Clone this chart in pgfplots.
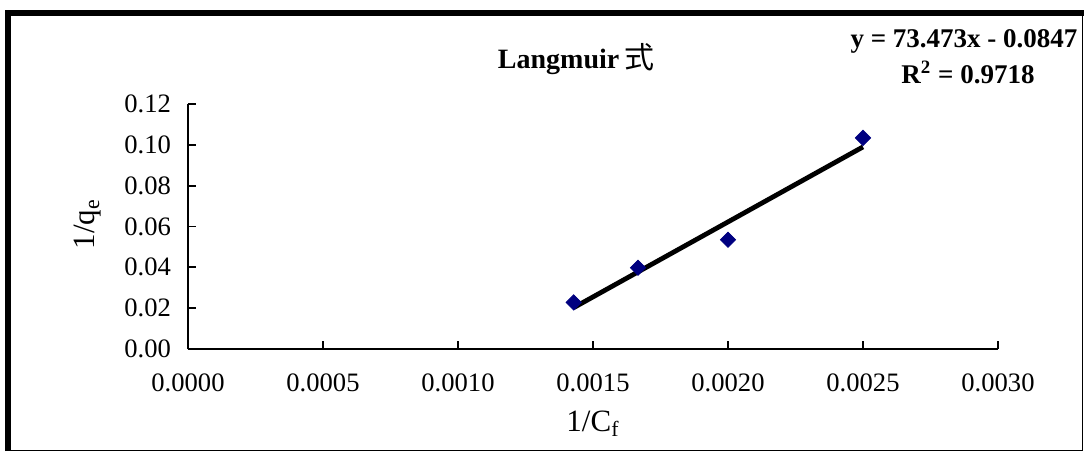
\documentclass[border=0pt]{standalone}
\usepackage{pgfplots}
\pgfplotsset{compat=1.18}
\usepackage{fontspec}
\setmainfont{Liberation Serif}
\newfontfamily\cjk{Noto Sans CJK JP}
\definecolor{mk}{RGB}{0,0,128}
\begin{document}
\begin{tikzpicture}
\useasboundingbox (0pt,0pt) rectangle (542pt,225.5pt);
\begin{axis}[
  at={(94pt,51pt)}, anchor=origin,
  scale only axis, width=405pt, height=122.5pt,
  xmin=0, xmax=0.003, ymin=0, ymax=0.12,
  axis x line*=bottom, axis y line*=left,
  axis line style={line width=0.85pt},
  every tick/.style={black, line width=0.85pt},
  major tick length=4pt,
  tick align=inside,
  xtick={0,0.0005,0.001,0.0015,0.002,0.0025,0.003},
  ytick={0,0.02,0.04,0.06,0.08,0.10,0.12},
  scaled x ticks=false, scaled y ticks=false,
  xticklabel style={/pgf/number format/fixed, /pgf/number format/precision=4, /pgf/number format/fixed zerofill, font=\fontsize{13.3}{15}\selectfont, anchor=center, yshift=-17pt},
  yticklabel style={/pgf/number format/fixed, /pgf/number format/precision=2, /pgf/number format/fixed zerofill, font=\fontsize{13.3}{15}\selectfont, anchor=east, xshift=-5pt},
  /pgf/number format/assume math mode=true,
  xlabel={1/C\textsubscript{f}},
  ylabel={1/q\textsubscript{e}},
  label style={font=\fontsize{15.5}{17}\selectfont},
  xlabel style={at={(axis description cs:0.5,-0.305)}, anchor=center},
  ylabel style={at={(axis description cs:-0.1235,0.51)}, anchor=center, rotate=0},
  clip=false,
]
\addplot[only marks, mark=square*, mark size=2.7pt, mark options={rotate=45, fill=mk, draw=mk}] coordinates {
  (0.0014286,0.0228) (0.0016667,0.0398) (0.0020,0.0535) (0.0025,0.1034)
};
\addplot[black, line width=2.4pt, no marks] coordinates {
  (0.0014286,0.020262) (0.0025,0.098983)
};
\end{axis}
\node[font=\fontsize{14}{16}\selectfont\bfseries, anchor=base] at (288pt,191.3pt) {Langmuir\,{\cjk\mdseries\fontsize{15}{16}\selectfont 式}};
\node[font=\fontsize{13.5}{15}\selectfont\bfseries, anchor=base] at (482pt,201.5pt) {y = 73.473x - 0.0847};
\node[font=\fontsize{13.5}{15}\selectfont\bfseries, anchor=base] at (484pt,183.5pt) {R\textsuperscript{2} = 0.9718};
\draw[line width=0.5pt] (4pt,0.5pt) rectangle (541pt,219pt);
\draw[line width=3pt] (4pt,0pt) -- (4pt,219pt) -- (542pt,219pt);
\end{tikzpicture}
\end{document}
